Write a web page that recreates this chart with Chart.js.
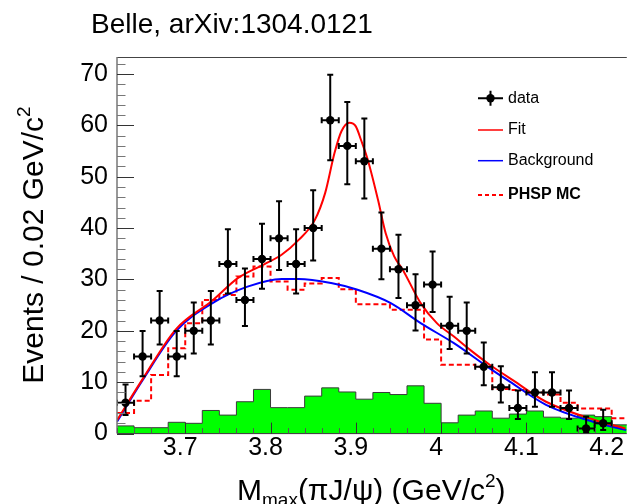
<!DOCTYPE html>
<html>
<head>
<meta charset="utf-8">
<script src="https://cdn.jsdelivr.net/npm/chart.js@4.4.1/dist/chart.umd.min.js"></script>
<style>html,body{margin:0;padding:0;background:#fff}canvas{display:block}</style>
</head>
<body>
<canvas id="c" width="631" height="504"></canvas>
<script>
// ---- data ----
const titleText = "Belle, arXiv:1304.0121";
const xTickValues = [3.7, 3.8, 3.9, 4.0, 4.1, 4.2];
const xTickLabels = ["3.7", "3.8", "3.9", "4", "4.1", "4.2"];

// data points (bin centres, counts, asymmetric Poisson errors)
const dataX = [3.63,3.65,3.67,3.69,3.71,3.73,3.75,3.77,3.79,3.81,3.83,3.85,3.87,3.89,3.91,3.93,3.95,3.97,3.99,4.01,4.03,4.05,4.07,4.09,4.11,4.13,4.15,4.17,4.19];
const dataY = [6,15,22,15,20,22,33,26,34,38,33,40,61,56,53,36,32,25,29,21,20,13,9,5,8,8,5,1,2];
const dataErrLow  = [2.38,3.85,4.64,3.85,4.43,4.64,5.71,5.06,5.80,6.14,5.71,6.30,7.79,7.46,7.26,5.97,5.62,4.94,5.35,4.53,4.43,3.58,2.94,2.16,2.77,2.77,2.16,0.83,1.29];
const dataErrHigh = [3.58,4.99,5.74,4.99,5.53,5.74,6.78,6.13,6.86,7.21,6.78,7.37,8.84,8.52,8.32,7.03,6.70,6.03,6.43,5.63,5.53,4.71,4.11,3.38,3.95,3.95,3.38,2.30,2.64];
const dataHalfWidth = 0.01;

// histogram bin low edges (0.02 GeV bins) and last upper edge
const binLowEdges = [3.62,3.64,3.66,3.68,3.70,3.72,3.74,3.76,3.78,3.80,3.82,3.84,3.86,3.88,3.90,3.92,3.94,3.96,3.98,4.00,4.02,4.04,4.06,4.08,4.10,4.12,4.14,4.16,4.18,4.20];
const binLastEdge = 4.22;
// green filled histogram
const greenCounts = [1.5,1.15,1.15,2.2,2.0,4.5,3.6,6.2,8.6,5.05,5.05,7.3,8.9,8.1,6.7,8.0,7.6,9.3,5.9,2.1,3.6,4.4,3.0,3.8,4.4,3.2,3.0,3.6,3.3,1.7];
// PHSP MC dashed histogram
const mcCounts = [4,6.4,11.4,16.6,21.5,26,27,30.6,32.5,29.6,28,29.2,30.3,28.1,25.2,25.2,24.1,24.1,18.3,13.4,13.4,13,8.7,8.5,8,7.6,6,4.9,4.9,3];

// fit curve (red)
const fitX = [3.62,3.65,3.689,3.732,3.762,3.793,3.813,3.833,3.852,3.864,3.875,3.883,3.8925,3.900,3.906,3.914,3.926,3.935,3.945,3.955,3.976,3.995,4.015,4.034,4.057,4.084,4.123,4.181,4.216];
const fitY = [2.6,10.6,20.3,25.9,30.3,33.0,34.8,37.7,41.6,46.8,54.6,58.8,60.5,59.8,57.2,53.3,45.5,39.0,34.5,31.9,25.4,21.5,18.9,16.3,13.4,10.4,6.2,2.6,1.0];
// background curve (blue)
const bkgX = [3.62,3.65,3.689,3.732,3.773,3.813,3.833,3.871,3.902,3.941,3.976,4.015,4.057,4.077,4.123,4.178,4.217];
const bkgY = [2.3,10.4,19.9,25.4,28.6,30.1,30.1,29.3,28.0,25.4,21.5,17.6,12.7,10.5,5.6,2.3,0.7];

const legendLabels = ["data", "Fit", "Background", "PHSP MC"];

// ---- helpers ----
const FONT = "'Liberation Sans', Arial, Helvetica, sans-serif";
function stepPoints(edges, vals, last) {
  const pts = edges.map((e, i) => ({x: e, y: vals[i]}));
  pts.push({x: last, y: vals[vals.length - 1]});
  return pts;
}
function xyPoints(xs, ys) { return xs.map((v, i) => ({x: v, y: ys[i]})); }

const overlay = {
  id: 'overlay',
  afterDatasetsDraw(chart) {
    const {ctx, chartArea: a, scales: {x, y}} = chart;
    ctx.save();
    ctx.beginPath(); ctx.rect(a.left, a.top, a.right - a.left, a.bottom - a.top); ctx.clip();
    ctx.strokeStyle = '#000'; ctx.lineWidth = 2;
    const cap = 3;
    for (let i = 0; i < dataX.length; i++) {
      const px = x.getPixelForValue(dataX[i]);
      const py = y.getPixelForValue(dataY[i]);
      const t = y.getPixelForValue(dataY[i] + dataErrHigh[i]);
      const b = y.getPixelForValue(Math.max(0, dataY[i] - dataErrLow[i]));
      const l = x.getPixelForValue(dataX[i] - dataHalfWidth);
      const r = x.getPixelForValue(dataX[i] + dataHalfWidth);
      ctx.beginPath();
      ctx.moveTo(px, t); ctx.lineTo(px, b);
      ctx.moveTo(px - cap, t); ctx.lineTo(px + cap, t);
      ctx.moveTo(px - cap, b); ctx.lineTo(px + cap, b);
      ctx.moveTo(l, py); ctx.lineTo(r, py);
      ctx.moveTo(l, py - cap); ctx.lineTo(l, py + cap);
      ctx.moveTo(r, py - cap); ctx.lineTo(r, py + cap);
      ctx.stroke();
    }
    ctx.restore();
  },
  afterDraw(chart) {
    const {ctx, chartArea: a, scales: {x, y}} = chart;
    ctx.save();
    // frame / axes
    ctx.lineWidth = 1;
    ctx.strokeStyle = '#444';
    ctx.beginPath(); ctx.moveTo(a.left, a.top + 0.5); ctx.lineTo(a.right, a.top + 0.5); ctx.stroke();
    ctx.strokeStyle = '#333';
    ctx.beginPath(); ctx.moveTo(a.left, a.bottom); ctx.lineTo(a.right, a.bottom); ctx.stroke();
    ctx.strokeStyle = '#777'; ctx.lineWidth = 1.5;
    ctx.beginPath(); ctx.moveTo(a.left, a.top); ctx.lineTo(a.left, a.bottom); ctx.stroke();
    // y ticks (inward)
    ctx.lineWidth = 1;
    for (let v = 0; v <= y.max; v += 2) {
      const py = Math.round(y.getPixelForValue(v)) + 0.5;
      const major = v % 10 === 0;
      ctx.strokeStyle = major ? '#333' : '#777';
      ctx.beginPath(); ctx.moveTo(a.left, py); ctx.lineTo(a.left + (major ? 17 : 8.5), py); ctx.stroke();
    }
    // x ticks (inward)
    for (let k = 0; k <= 30; k++) {
      const v = 3.62 + 0.02 * k;
      if (v > x.max) break;
      const px = Math.round(x.getPixelForValue(v)) + 0.5;
      const major = (k - 4) % 5 === 0;
      ctx.strokeStyle = major ? '#333' : '#555';
      ctx.beginPath(); ctx.moveTo(px, a.bottom); ctx.lineTo(px, a.bottom - (major ? 11 : 5.5)); ctx.stroke();
    }
    // x tick labels
    ctx.fillStyle = '#000';
    ctx.font = '25px ' + FONT;
    ctx.textAlign = 'center'; ctx.textBaseline = 'middle';
    xTickValues.forEach((v, i) => {
      ctx.fillText(xTickLabels[i], x.getPixelForValue(v) - 5, 448);
    });
    // title
    ctx.textAlign = 'left'; ctx.textBaseline = 'alphabetic';
    ctx.font = '28px ' + FONT;
    ctx.fillText(titleText, 91, 33);
    // x axis title: M_max(πJ/ψ) (GeV/c^2)
    let cx = 237; const bx = 500;
    const big = '30px ' + FONT, small = '19px ' + FONT;
    ctx.font = big; ctx.fillText('M', cx, bx); cx += ctx.measureText('M').width;
    ctx.font = small; ctx.fillText('max', cx, bx + 6); cx += ctx.measureText('max').width;
    ctx.font = big; ctx.fillText('(\u03C0J/\u03C8) (GeV/c', cx, bx); cx += ctx.measureText('(\u03C0J/\u03C8) (GeV/c').width;
    ctx.font = small; ctx.fillText('2', cx, bx - 13); cx += ctx.measureText('2').width;
    ctx.font = big; ctx.fillText(')', cx, bx);
    // y axis title
    ctx.save();
    ctx.translate(43, 245); ctx.rotate(-Math.PI / 2);
    ctx.font = big; const main = 'Events / 0.02 GeV/c'; const w1 = ctx.measureText(main).width;
    ctx.font = small; const w2 = ctx.measureText('2').width;
    const sx = -(w1 + w2) / 2;
    ctx.font = big; ctx.fillText(main, sx, 0);
    ctx.font = small; ctx.fillText('2', sx + w1, -13);
    ctx.restore();
    // legend
    const lx0 = 478, lx1 = 503, tx = 508;
    const ly = [98.3, 130, 160.7, 195];
    ctx.lineWidth = 2; ctx.strokeStyle = '#000';
    ctx.beginPath(); ctx.moveTo(lx0, ly[0]); ctx.lineTo(lx1, ly[0]);
    ctx.moveTo(490.5, ly[0] - 7.5); ctx.lineTo(490.5, ly[0] + 7.5); ctx.stroke();
    ctx.fillStyle = '#000'; ctx.beginPath(); ctx.arc(490.5, ly[0], 4.2, 0, Math.PI * 2); ctx.fill();
    ctx.lineWidth = 1.5;
    ctx.strokeStyle = '#ff0000'; ctx.beginPath(); ctx.moveTo(lx0, ly[1]); ctx.lineTo(lx1, ly[1]); ctx.stroke();
    ctx.strokeStyle = '#0000ff'; ctx.beginPath(); ctx.moveTo(lx0, ly[2]); ctx.lineTo(lx1, ly[2]); ctx.stroke();
    ctx.lineWidth = 2; ctx.setLineDash([4, 3]);
    ctx.strokeStyle = '#ff0000'; ctx.beginPath(); ctx.moveTo(lx0, ly[3]); ctx.lineTo(lx1, ly[3]); ctx.stroke();
    ctx.setLineDash([]);
    ctx.fillStyle = '#000'; ctx.textBaseline = 'middle';
    ctx.font = '16px ' + FONT;
    ctx.fillText(legendLabels[0], tx, ly[0]);
    ctx.fillText(legendLabels[1], tx, ly[1]);
    ctx.fillText(legendLabels[2], tx, ly[2]);
    ctx.font = 'bold 16px ' + FONT;
    ctx.fillText(legendLabels[3], tx, ly[3]);
    ctx.restore();
  }
};

new Chart(document.getElementById('c'), {
  type: 'scatter',
  data: {
    datasets: [
      { type: 'scatter', label: 'data', data: xyPoints(dataX, dataY), order: 0,
        pointRadius: 4.2, pointBackgroundColor: '#000', pointBorderColor: '#000', pointBorderWidth: 0 },
      { type: 'line', label: 'Fit', data: xyPoints(fitX, fitY), order: 1,
        borderColor: '#ff0000', borderWidth: 2, pointRadius: 0, cubicInterpolationMode: 'monotone', fill: false },
      { type: 'line', label: 'Background', data: xyPoints(bkgX, bkgY), order: 2,
        borderColor: '#0000ff', borderWidth: 2, pointRadius: 0, cubicInterpolationMode: 'monotone', fill: false },
      { type: 'line', label: 'PHSP MC', data: stepPoints(binLowEdges, mcCounts, binLastEdge), order: 3,
        borderColor: '#ff0000', borderWidth: 2, borderDash: [5, 3], pointRadius: 0, stepped: 'before', fill: false },
      { type: 'line', label: 'green', data: stepPoints(binLowEdges, greenCounts, binLastEdge), order: 4,
        borderColor: '#3a3a3a', borderWidth: 1, backgroundColor: '#00ff00', pointRadius: 0, stepped: 'before', fill: 'origin' }
    ]
  },
  options: {
    responsive: false,
    animation: false,
    layout: { padding: { top: 57, right: 0, bottom: 0, left: 0 } },
    plugins: { legend: { display: false }, tooltip: { enabled: false }, title: { display: false } },
    scales: {
      x: { type: 'linear', min: 3.62, max: 4.2177,
           ticks: { display: false }, grid: { display: false }, border: { display: false },
           afterFit: s => { s.height = 70.4; } },
      y: { type: 'linear', min: 0, max: 73.3,
           ticks: { stepSize: 10, includeBounds: false, color: '#000', padding: 9, font: { size: 25, family: FONT } },
           grid: { display: false, drawTicks: false }, border: { display: false },
           afterFit: s => { s.width = 117; } }
    }
  },
  plugins: [overlay]
});
</script>
</body>
</html>
